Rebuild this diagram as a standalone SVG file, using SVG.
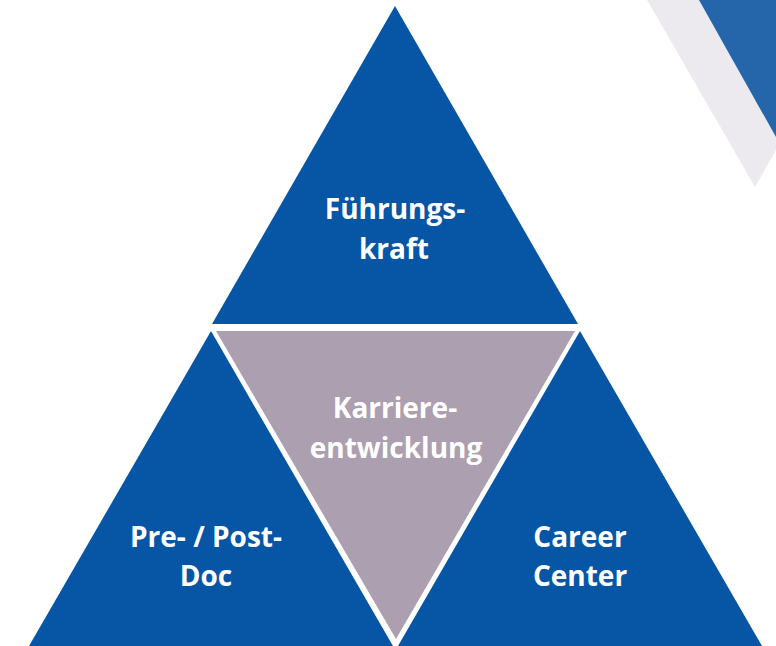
<svg xmlns="http://www.w3.org/2000/svg" width="776" height="646" viewBox="0 0 776 646">
<style>
.blue{fill:#0756A5}
.gray{fill:#ACA0B0}
.lbl{font-family:"Open Sans","Noto Sans","Liberation Sans",sans-serif;font-weight:bold;font-size:28px;fill:#FFFFFF;text-anchor:middle}
</style>
<rect width="776" height="646" fill="#FFFFFF"/>
<g id="background">
<polygon points="647,0 776,0 776,150 755,187" fill="#ECEAEE"/>
<polygon points="699,0 776,0 776,137" fill="#2565A9"/>
</g>
<g id="fuehrungskraft">
<polygon class="blue" points="395,6 212,324 578,324"/>
<text class="lbl" x="395" y="219">Führungs-</text>
<text class="lbl" x="394" y="259">kraft</text>
</g>
<g id="karriereentwicklung">
<polygon class="gray" points="216,331 575,331 396,639"/>
<text class="lbl" x="395" y="418">Karriere-</text>
<text class="lbl" x="396" y="458">entwicklung</text>
</g>
<g id="prepostdoc">
<polygon class="blue" points="211,331 393,646 393,660 29,660 29,646"/>
<text class="lbl" x="206" y="547">Pre- / Post-</text>
<text class="lbl" x="206" y="586">Doc</text>
</g>
<g id="careercenter">
<polygon class="blue" points="580,331 762,646 398,646"/>
<text class="lbl" x="580" y="547">Career</text>
<text class="lbl" x="580" y="586">Center</text>
</g>
<g id="connectors"></g>
</svg>
